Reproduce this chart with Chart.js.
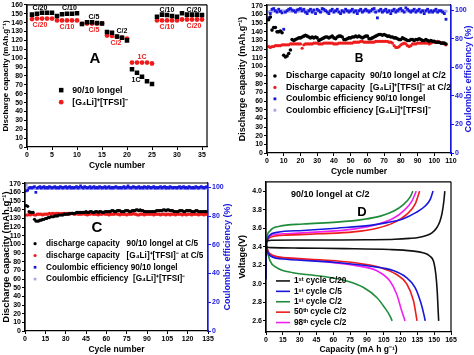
<!DOCTYPE html>
<html><head><meta charset="utf-8">
<script src="https://cdn.jsdelivr.net/npm/chart.js@4.4.1/dist/chart.umd.min.js"></script>
<style>
html,body{margin:0;padding:0;background:#fff;width:474px;height:355px;overflow:hidden;}
canvas{position:absolute;}
#cA{left:0;top:0}#cB{left:237px;top:0}#cC{left:0;top:177px}#cD{left:237px;top:177px}
</style></head><body>
<canvas id="cA" width="237" height="177"></canvas>
<canvas id="cB" width="237" height="177"></canvas>
<canvas id="cC" width="237" height="178"></canvas>
<canvas id="cD" width="237" height="178"></canvas>
<script>
// ---------------- DATA ----------------
// Panel A: rate capability (cycles 1..35)
const capA_longel = [149,150,151,151,151,147.5,149.5,150,150,150.5,138.5,140.5,140.5,139.5,139,129.5,128.5,124.5,123,120,87.5,83.5,79,74,71,146.5,149,148.5,147.5,146.5,150.5,149,149,149,148.5];
const capA_G4Li   = [144,144.5,144.5,144.5,144.5,142.5,142.5,142.5,142.5,142.5,138.5,139,139,139,139,125.5,125,124,123,122,95,95,95,95,94,142.5,142.5,142.5,142.5,142.5,143.5,143.5,143.5,143.5,143.5];

// Panel B: cycling at C/2 (cycles 1..107)
const capB_longel = [154,157,142,145,145,140,140,141,139,113,
 111,112,115,119,131,130,131,132,133,133,
 134,135,136,135,134,133,134,133,134,133,
 130,131,132,133,134,134,133,134,135,133,
 132,134,135,135,134,131,131,132,133,133,
 134,134,135,134,135,134,133,134,135,135,
 132,132,133,134,135,136,137,137,136,137,
 136,135,135,134,134,133,133,132,131,131,
 133,132,131,130,130,131,131,130,131,131,
 132,131,130,130,131,130,129,130,129,129,
 128,128,128,127,127,127,126];
const capB_G4Li = [123,122,123,123,124,124,124,124,125,125,
 125,125,125,126,126,126,126,126,126,126,
 121,125,126,126,126,126,126,127,127,127,
 126,126,126,127,127,127,127,127,127,126,
 126,126,127,127,127,127,127,127,127,127,
 127,128,128,128,128,129,129,128,128,128,
 128,128,128,128,129,129,129,129,129,129,
 129,129,128,128,127,124,122,122,123,125,
 126,127,126,124,123,124,126,126,126,127,
 127,127,127,127,127,127,126,127,128,128,
 128,129,128,127,127,126,125];
const ceB_longel = [94.5,97.5,100.5,101,99.5,98.5,100.5,99,98,86.5,
 98.5,99.5,100.5,101,100,99.5,98.5,100,100.5,101,
 99.5,100.5,98.5,97.5,99.5,100.5,98.5,100,97.5,100.5,
 99.5,98.5,101,100.5,99.5,98.5,97.5,99.5,100.5,98.5,
 99.5,100.5,98.5,97.5,99.5,98.5,100.5,99.5,98.5,99.5,
 100.5,98.5,99.5,97.5,99.5,100.5,98.5,99.5,100.5,99.5,
 98.5,99.5,100.5,101,98.5,94.5,99.5,100.5,98.5,99.5,
 100.5,98.5,99.5,97.5,99.5,100.5,98.5,99.5,100.5,101,
 99.5,98.5,101.5,100.5,99.5,98.5,99.5,100.5,98.5,99.5,
 100.5,98.5,99.5,97.5,99.5,100.5,98.5,99.5,98.5,99.5,
 100.5,98.5,99.5,99.5,98.5,97.5,93.5];
const ceB_G4Li = [98.6,99.0,99.3,99.1,99.4,99.2,99.0,99.3,99.5,99.2,
 99.1,99.3,99.4,99.2,99.0,99.3,99.5,99.1,99.2,99.4,
 99.0,99.3,99.2,99.4,99.1,99.3,99.5,99.2,99.0,99.3,
 99.4,99.1,99.2,99.3,99.5,99.2,99.0,99.3,99.4,99.1,
 99.2,99.3,99.0,99.4,99.2,99.1,99.3,99.5,99.2,99.0,
 99.3,99.4,99.1,99.2,99.3,99.5,99.2,99.0,99.3,99.4,
 99.1,99.2,99.3,99.0,99.4,99.2,99.1,99.3,99.5,99.2,
 99.0,99.3,99.4,99.1,99.2,99.3,99.5,99.2,99.0,99.3,
 99.4,99.1,99.2,99.3,99.0,99.4,99.2,99.1,99.3,99.5,
 99.2,99.0,99.3,99.4,99.1,99.2,99.3,99.5,99.2,99.0,
 99.3,99.4,99.1,99.2,99.3,99.0,99.2];

// Panel C: cycling at C/5 (cycles 1..135)
const capC_longel = [145,144,138,137,137,137,129,127,127,127,
 128,128,129,129,130,130,131,131,132,132,
 132,133,133,133,134,134,134,134,135,135,
 135,135,136,136,136,136,136,137,137,137,
 137,137,137,137,138,137,137,138,138,137,
 137,138,138,137,138,138,137,137,138,138,
 138,138,138,139,139,138,138,139,139,139,
 138,138,138,139,139,139,138,138,139,139,
 139,140,140,139,140,139,139,138,138,138,
 138,138,138,138,138,138,139,139,139,139,
 139,140,140,139,140,140,139,139,139,138,
 138,138,138,139,139,139,138,138,139,139,
 139,139,138,138,138,139,139,138,138,138,
 138,138,138,138,138];
const capC_G4Li = [134,134,135,134,135,135,134,134,135,135,
 135,135,134,135,135,135,135,136,135,136,
 136,135,136,136,136,135,136,136,136,135,
 136,136,135,136,136,135,135,136,135,135,
 135,135,136,135,135,134,135,135,136,135,
 135,135,135,134,135,135,135,136,135,135,
 135,134,135,135,135,135,136,135,135,134,
 135,135,135,135,134,135,135,135,135,136,
 135,135,134,134,135,135,135,134,135,135,
 135,135,135,135,134,135,135,135,135,134,
 135,135,135,134,135,135,134,135,135,135,
 134,135,135,135,135,134,135,135,134,135,
 135,135,134,135,135,135,135,134,135,135,
 135,134,135,135,135];
const ceC_longel = [97.5,98,99.5,100,99.5,100,100.5,96.5,99.5,100,
 100.5,99.5,100,100.5,99.5,100,99.5,100.5,100,99.5,
 100,100.5,99.5,100,99.5,100.5,100,99.5,100,100.5,
 99.5,100,100.5,99.5,100,99.5,100,100.5,99.5,100,
 101,100,99.5,100.5,100,99.5,100,100.5,99.5,100,
 100.5,99.5,100,99.5,100.5,100,99.5,100,100.5,99.5,
 100,100.5,99.5,100,99.5,100,100.5,100,99.5,100,
 99.5,100,100.5,99.5,100,101,100,99.5,100,100.5,
 100,99.5,100,100.5,99.5,100,99.5,100.5,100,99.5,
 100.5,100,99.5,100,100.5,99.5,100,99.5,100,100.5,
 99.5,100,100.5,99.5,100,99.5,100.5,100,99.5,100,
 100,99.5,100,100.5,99.5,100,100.5,99.5,100,99.5,
 100.5,100,99.5,100,99.5,100.5,100,99.5,100,100.5,
 100,99.5,100,100.5,100];
const ceC_G4Li = [101.5,99.6,99.2,99.3,99.1,99.4,99.2,99.0,99.3,99.2,
 99.4,99.1,99.3,99.2,99.5,99.0,99.3,99.4,99.1,99.2,
 99.3,99.5,99.2,99.0,99.3,99.4,99.1,99.2,99.3,99.5,
 99.2,99.0,99.3,99.4,99.1,99.2,99.3,99.5,99.2,99.0,
 99.3,99.4,99.1,99.2,99.3,99.5,99.2,99.0,99.3,99.4,
 99.1,99.2,99.3,99.5,99.2,99.0,99.3,99.4,99.1,99.2,
 99.3,99.5,99.2,99.0,99.3,99.4,99.1,99.2,99.3,99.5,
 99.2,99.0,99.3,99.4,99.1,99.2,99.3,99.5,99.2,99.0,
 99.3,99.4,99.1,99.2,99.3,99.5,99.2,99.0,99.3,99.4,
 99.1,99.2,99.3,99.5,99.2,99.0,99.3,99.4,99.1,99.2,
 99.3,99.5,99.2,99.0,99.3,99.4,99.1,99.2,99.3,99.5,
 99.2,99.0,99.3,99.4,99.1,99.2,99.3,99.5,99.2,99.0,
 99.3,99.4,99.1,99.2,99.3,99.5,99.2,99.0,99.3,99.4,
 99.1,99.2,99.3,99.5,99.2];

// Panel D: voltage profiles (capacity mA h g-1, voltage V)
const dC20_chg_cap = [0,0.4,1.5,5,30,60,90,115,128,136,143,148,152,155,157,158.5,159.5];
const dC20_chg_v   = [3.30,3.44,3.465,3.47,3.472,3.473,3.475,3.48,3.49,3.50,3.52,3.55,3.60,3.67,3.76,3.88,4.00];
const dC20_dis_cap = [0,1,5,30,70,110,130,140,146,149.5,151.5,152.8,153.5,154];
const dC20_dis_v   = [3.41,3.395,3.39,3.385,3.38,3.37,3.355,3.335,3.30,3.24,3.10,2.90,2.72,2.60];
const dC5_chg_cap  = [0,0.3,1,3,10,33,63,93,108,122,134,142,146.5,149];
const dC5_chg_v    = [3.05,3.40,3.47,3.52,3.555,3.575,3.60,3.63,3.66,3.70,3.77,3.84,3.91,4.00];
const dC5_dis_cap  = [0,1,4,18,63,93,114,125,133,138,141,142];
const dC5_dis_v    = [3.43,3.36,3.30,3.265,3.23,3.19,3.14,3.07,2.96,2.80,2.66,2.60];
const dC2_chg_cap  = [0,0.5,3.5,12,33,63,87,102,114,122.5,128.5,131];
const dC2_chg_v    = [3.40,3.48,3.57,3.62,3.645,3.665,3.695,3.73,3.785,3.855,3.935,4.00];
const dC2_dis_cap  = [0,0.6,3.5,9.5,24,48,72,87,99,106,110.5,112.5];
const dC2_dis_v    = [3.45,3.39,3.25,3.175,3.12,3.085,3.03,2.96,2.85,2.74,2.655,2.60];
const d50_chg_cap  = [0,0.5,3.5,18,48,78,99,114,125.5,133,137];
const d50_chg_v    = [3.40,3.44,3.50,3.525,3.54,3.56,3.60,3.66,3.75,3.86,4.00];
const d50_dis_cap  = [0,0.5,3.5,18,48,78,102,116.5,125.5,131.5,134.7];
const d50_dis_v    = [3.45,3.41,3.325,3.28,3.26,3.23,3.175,3.10,3.00,2.82,2.60];
const d98_chg_cap  = [0,0.5,3.5,18,48,78,99,114,122.5,130,134];
const d98_chg_v    = [3.40,3.44,3.515,3.54,3.56,3.59,3.64,3.71,3.785,3.89,4.00];
const d98_dis_cap  = [0,0.5,3.5,18,48,78,99,110.5,116.5,121,124];
const d98_dis_v    = [3.45,3.41,3.32,3.28,3.245,3.20,3.14,3.03,2.89,2.71,2.60];

// Labels
const labA = ['90/10 longel','[G\u2084Li]\u207A[TFSI]\u207B'];
const labB = ['Discharge capacity  90/10 longel at C/2','Discharge capacity  [G\u2084Li]\u207A[TFSI]\u207B at C/2','Coulombic efficiency 90/10 longel','Coulombic efficiency [G\u2084Li]\u207A[TFSI]\u207B'];
const labC = ['discharge capacity   90/10 longel at C/5','discharge capacity   [G\u2084Li]\u207A[TFSI]\u207B at C/5','Coulombic efficiency 90/10 longel','Coulombic efficiency  [G\u2084Li]\u207A[TFSI]\u207B'];
const labD = ['1\u02E2\u1D57 cycle C/20','1\u02E2\u1D57 cycle C/5','1\u02E2\u1D57 cycle C/2','50\u1D57\u02B0 cycle C/2','98\u1D57\u02B0 cycle C/2'];

// Text annotations (text, x, y in data units)
const notesA = [['C/20',2.6,156,'k'],['C/20',2.6,137,'r'],['C/10',8.5,156,'k'],['C/10',8,135,'r'],
 ['C/5',13.4,146,'k'],['C/5',13.4,131.5,'r'],['C/2',19,131,'k'],['C/2',17.8,116.5,'r'],
 ['1C',23,101,'r'],['1C',21.8,75.5,'k'],['C/10',28,154.5,'k'],['C/10',28,135.5,'r'],
 ['C/20',33.4,154.5,'k'],['C/20',33.4,136.5,'r']];

// ---------------- STYLE / HELPERS ----------------
const F = '"Liberation Sans",Arial,sans-serif';
const BLK='#000', RED='#ee1c1c', BLU='#1818dd', LAV='#a6a6ee', GRN='#1e8c3a', MAG='#f020f0';
const fnt = (s)=>({family:F,size:s,weight:'bold',lineHeight:1.1});
Chart.defaults.animation=false;
Chart.defaults.color='#000';

const pts = (arr)=>arr.map((v,i)=>({x:i+1,y:v}));
const xy = (xs,ys)=>xs.map((x,i)=>({x:x,y:ys[i]}));

function xAxis(min,max,step,title,h,ts){
  return {type:'linear',position:'bottom',min,max,
    ticks:{stepSize:step,includeBounds:false,font:fnt(7),padding:1,color:'#000',maxRotation:0,autoSkip:false},
    grid:{drawOnChartArea:false,drawTicks:true,tickLength:3,tickColor:'#000',tickWidth:1},
    border:{display:true,color:'#000',width:1.2},
    title:{display:true,text:title,font:fnt(ts||8.5),color:'#000',padding:{top:0,bottom:1}},
    afterFit(s){s.height=h;}};
}
function yAxis(min,max,step,title,w,ts,dec){
  return {type:'linear',position:'left',min,max,
    ticks:{stepSize:step,includeBounds:false,font:fnt(7),padding:1,color:'#000',autoSkip:false,
      callback:(v)=>dec?Number(v).toFixed(dec):v},
    grid:{drawOnChartArea:false,drawTicks:true,tickLength:3,tickColor:'#000',tickWidth:1},
    border:{display:true,color:'#000',width:1.2},
    title:{display:true,text:title,font:fnt(ts),color:'#000',padding:{top:1,bottom:0}},
    afterFit(s){s.width=w;}};
}
function y2Axis(max,w){
  return {type:'linear',position:'right',min:0,max,
    ticks:{stepSize:20,includeBounds:false,font:fnt(7),padding:1,color:BLU,autoSkip:false},
    grid:{drawOnChartArea:false,drawTicks:true,tickLength:3,tickColor:BLU,tickWidth:1},
    border:{display:true,color:BLU,width:1.2},
    title:{display:false},
    afterFit(s){s.width=w;}};
}
function framePlugin(rightColor){
  return {id:'frame',afterDraw(chart){
    const {ctx,chartArea:a}=chart; ctx.save(); ctx.lineWidth=1.2; ctx.strokeStyle='#000';
    ctx.beginPath(); ctx.moveTo(a.left,a.bottom); ctx.lineTo(a.left,a.top); ctx.lineTo(a.right,a.top); ctx.stroke();
    ctx.strokeStyle=rightColor||'#000';
    ctx.beginPath(); ctx.moveTo(a.right,a.top); ctx.lineTo(a.right,a.bottom); ctx.stroke();
    ctx.restore();}};
}
function notesPlugin(items){
  return {id:'notes',afterDatasetsDraw(chart){
    const {ctx}=chart, xs=chart.scales.x, ys=chart.scales.y; ctx.save();
    ctx.textAlign='center'; ctx.textBaseline='middle';
    items.forEach(it=>{ctx.font=`bold ${it.size}px ${F}`; ctx.fillStyle=it.color;
      ctx.textAlign=it.align||'center';
      ctx.fillText(it.text,xs.getPixelForValue(it.x),ys.getPixelForValue(it.y));});
    ctx.restore();}};
}
function legendPlugin(o){
  return {id:'inlineLegend',afterDraw(chart){
    const {ctx,chartArea:a}=chart; ctx.save();
    ctx.font=`bold ${o.size}px ${F}`; ctx.textBaseline='middle'; ctx.textAlign='left';
    o.items.forEach((di,k)=>{
      const ds=chart.data.datasets[di];
      const x=a.left+o.x*(a.right-a.left), y=a.top+o.y*(a.bottom-a.top)+k*o.gap;
      if(o.kind==='line'){ctx.strokeStyle=ds.borderColor;ctx.lineWidth=ds.borderWidth;
        ctx.beginPath();ctx.moveTo(x,y);ctx.lineTo(x+o.len,y);ctx.stroke();}
      else{ctx.fillStyle=ds.backgroundColor; const r=ds.pointRadius;
        if(ds.pointStyle==='rect'){const s=r*0.7071;ctx.fillRect(x-s,y-s,2*s,2*s);}
        else{ctx.beginPath();ctx.arc(x,y,r,0,Math.PI*2);ctx.fill();}}
      ctx.fillStyle='#000'; ctx.fillText(ds.label,x+o.dx,y);
    });
    ctx.restore();}};
}
function rightTitlePlugin(text,off,size){
  return {id:'rtitle',afterDraw(chart){
    const {ctx,chartArea:a}=chart; ctx.save();
    ctx.font=`bold ${size}px ${F}`; ctx.fillStyle=BLU; ctx.textAlign='center'; ctx.textBaseline='middle';
    ctx.translate(chart.width-off,(a.top+a.bottom)/2); ctx.rotate(-Math.PI/2); ctx.fillText(text,0,0);
    ctx.restore();}};
}
const baseOpts = {responsive:false,devicePixelRatio:1,animation:false,
  plugins:{legend:{display:false},tooltip:{enabled:false}},
  elements:{line:{borderWidth:1.5}}};
function scatterDs(label,data,color,style,r,axis){
  return {label,data,showLine:false,pointStyle:style,pointRadius:r,backgroundColor:color,
    borderColor:color,borderWidth:0,yAxisID:axis||'y'};
}

// ---------------- PANEL A ----------------
new Chart(document.getElementById('cA'),{
  type:'scatter',
  data:{datasets:[
    scatterDs(labA[0],pts(capA_longel),BLK,'rect',3.2),
    scatterDs(labA[1],pts(capA_G4Li),RED,'circle',2.4)]},
  options:Object.assign({},baseOpts,{
    layout:{padding:{top:4,right:30,left:0,bottom:6}},
    scales:{x:xAxis(0,36,5,'Cycle number',24,8.5),
            y:yAxis(0,160,10,'Discharge capacity (mAh.g\u207B\u00B9)',27,8)}}),
  plugins:[framePlugin(),
    notesPlugin(notesA.map(n=>({text:n[0],x:n[1],y:n[2],color:n[3]==='k'?BLK:RED,size:7}))
      .concat([{text:'A',x:13.6,y:99.5,color:BLK,size:15}])),
    legendPlugin({items:[0,1],x:0.19,y:0.60,gap:12,dx:11,size:8.8})]
});

// ---------------- PANEL B ----------------
new Chart(document.getElementById('cB'),{
  type:'scatter',
  data:{datasets:[
    scatterDs(labB[0],pts(capB_longel),BLK,'circle',1.8),
    scatterDs(labB[1],pts(capB_G4Li),RED,'circle',1.6),
    scatterDs(labB[2],pts(ceB_longel),BLU,'rect',2.0,'y2'),
    scatterDs(labB[3],pts(ceB_G4Li),LAV,'rect',2.0,'y2')]},
  options:Object.assign({},baseOpts,{
    layout:{padding:{top:5,right:0,left:0,bottom:0}},
    scales:{x:xAxis(0,110,10,'Cycle number',24,8.5),
            y:yAxis(0,171,10,'Discharge capacity (mAh.g\u207B\u00B9)',30,9),
            y2:y2Axis(103.5,23)}}),
  plugins:[framePlugin(BLU),rightTitlePlugin('Coulombic efficiency (%)',5,9),
    notesPlugin([{text:'B',x:55,y:108.5,color:BLK,size:12}]),
    legendPlugin({items:[0,1,2,3],x:0.043,y:0.48,gap:11.4,dx:11,size:8.7})]
});

// ---------------- PANEL C ----------------
new Chart(document.getElementById('cC'),{
  type:'scatter',
  data:{datasets:[
    scatterDs(labC[0],pts(capC_longel),BLK,'circle',1.6),
    scatterDs(labC[1],pts(capC_G4Li),RED,'circle',1.6),
    scatterDs(labC[2],pts(ceC_longel),BLU,'rect',1.9,'y2'),
    scatterDs(labC[3],pts(ceC_G4Li),LAV,'rect',1.9,'y2')]},
  options:Object.assign({},baseOpts,{
    layout:{padding:{top:6,right:0,left:0,bottom:0}},
    scales:{x:xAxis(0,135,15,'Cycle number',24,8.5),
            y:yAxis(0,171,10,'Discharge capacity (mAh.g\u207B\u00B9)',25,9.5),
            y2:y2Axis(103,29)}}),
  plugins:[framePlugin(BLU),rightTitlePlugin('Coulombic efficiency (%)',9,9),
    notesPlugin([{text:'C',x:53,y:119.5,color:BLK,size:15}]),
    legendPlugin({items:[0,1,2,3],x:0.055,y:0.41,gap:11.8,dx:11,size:8.2})]
});

// ---------------- PANEL D ----------------
function lineDs(label,data,color){
  return {label,data,showLine:true,borderColor:color,backgroundColor:color,borderWidth:1.6,
    pointRadius:0,cubicInterpolationMode:'monotone',fill:false};
}
new Chart(document.getElementById('cD'),{
  type:'scatter',
  data:{datasets:[
    lineDs(labD[0],xy(dC20_chg_cap,dC20_chg_v),'#111'),
    lineDs(labD[1],xy(dC5_chg_cap,dC5_chg_v),BLU),
    lineDs(labD[2],xy(dC2_chg_cap,dC2_chg_v),GRN),
    lineDs(labD[3],xy(d50_chg_cap,d50_chg_v),RED),
    lineDs(labD[4],xy(d98_chg_cap,d98_chg_v),MAG),
    lineDs(labD[0],xy(dC20_dis_cap,dC20_dis_v),'#111'),
    lineDs(labD[1],xy(dC5_dis_cap,dC5_dis_v),BLU),
    lineDs(labD[2],xy(dC2_dis_cap,dC2_dis_v),GRN),
    lineDs(labD[3],xy(d50_dis_cap,d50_dis_v),RED),
    lineDs(labD[4],xy(d98_dis_cap,d98_dis_v),MAG)]},
  options:Object.assign({},baseOpts,{
    layout:{padding:{top:4,right:23,left:0,bottom:0}},
    scales:{x:xAxis(0,165,15,'Capacity (mA h g\u207B\u00B9)',23,8.5),
            y:yAxis(2.48,4.1,0.2,'Voltage(V)',29,9,1)}}),
  plugins:[framePlugin(),
    notesPlugin([{text:'90/10 longel at C/2',x:22.3,y:3.96,color:BLK,size:9,align:'left'},
                 {text:'D',x:85.6,y:3.765,color:BLK,size:13}]),
    legendPlugin({items:[0,1,2,3,4],kind:'line',len:14,x:0.054,y:0.66,gap:10.4,dx:18,size:8.3})]
});
</script>
</body></html>
